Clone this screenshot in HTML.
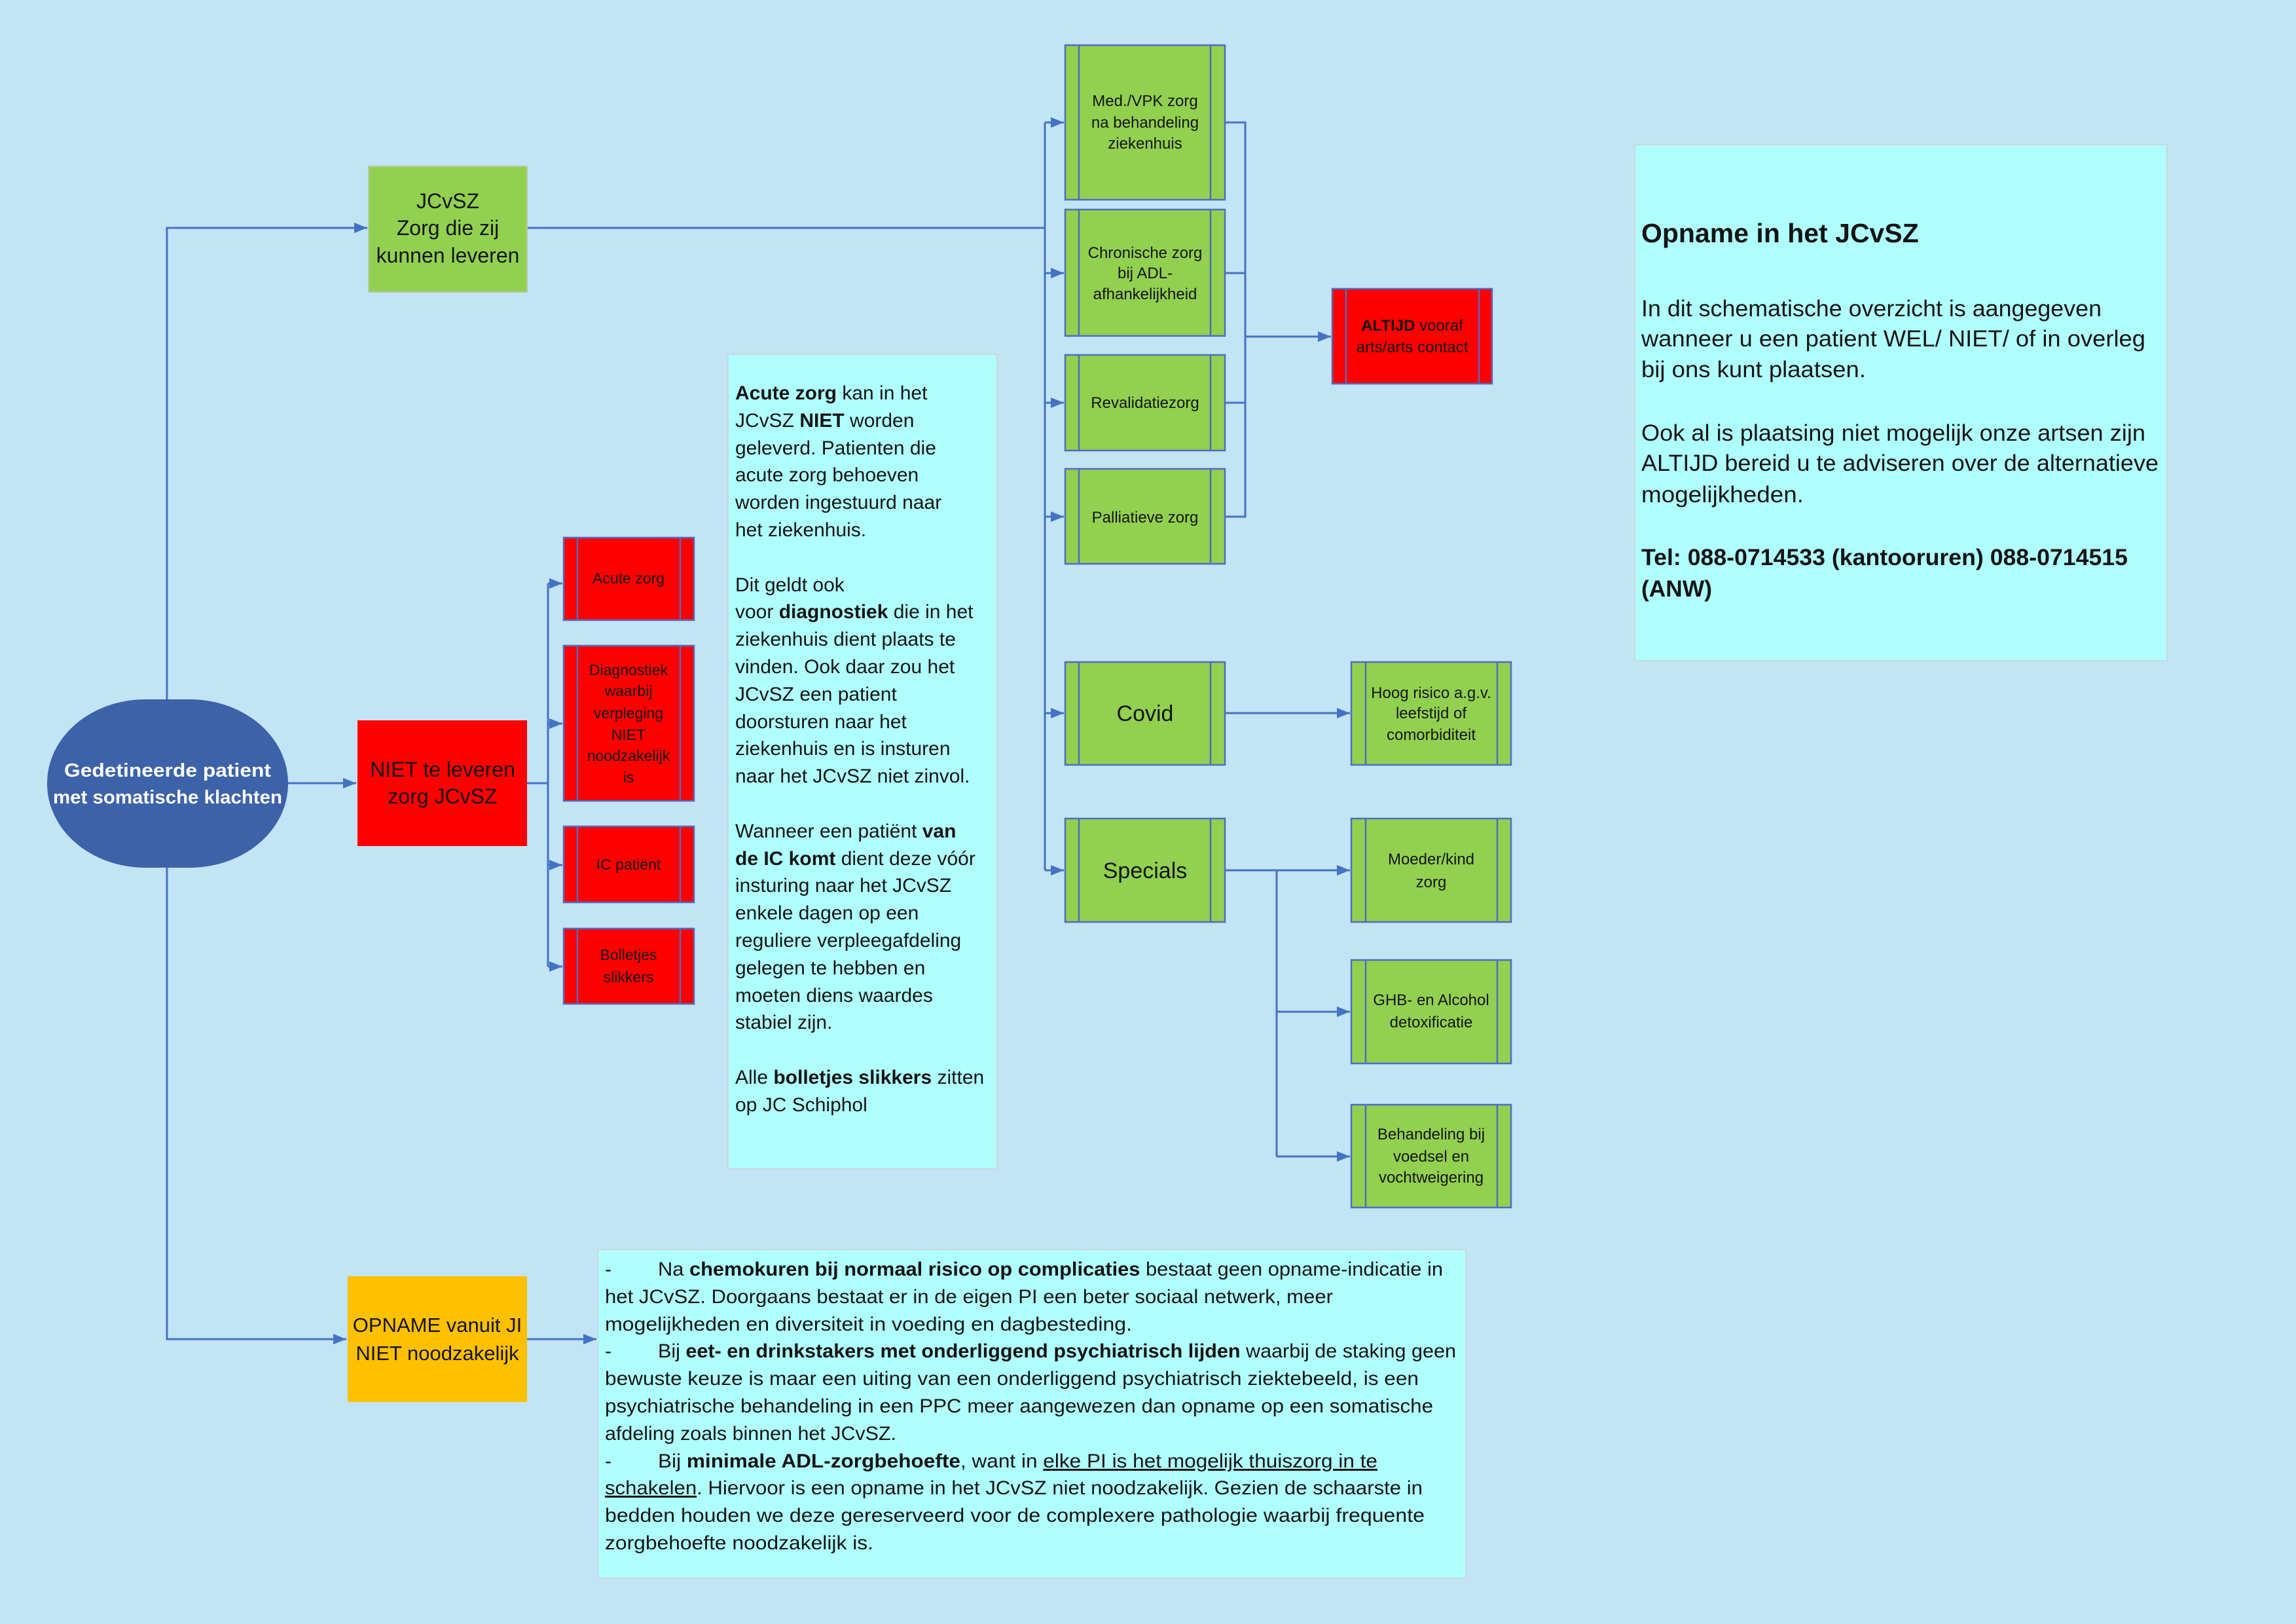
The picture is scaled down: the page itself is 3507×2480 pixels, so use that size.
<!DOCTYPE html>
<html><head><meta charset="utf-8"><style>
html,body{margin:0;padding:0;background:#c2e4f4;}
svg{display:block;}
text{font-family:"Liberation Sans",sans-serif;fill:#141414;}
</style></head><body>
<svg width="3507" height="2480" viewBox="0 0 3507 2480" xmlns="http://www.w3.org/2000/svg">
<defs>
<marker id="ar" viewBox="0 0 20 20" refX="20" refY="10" markerWidth="20" markerHeight="20" markerUnits="userSpaceOnUse" orient="auto"><path d="M0,2 L20,10 L0,18 z" fill="#4472c4"/></marker>
</defs>
<rect width="3507" height="2480" fill="#c2e4f4"/>

<g stroke="#4472c4" stroke-width="3" fill="none">
<polyline points="255,1068 255,348 561,348" marker-end="url(#ar)"/>
<polyline points="255,1325 255,2045 529,2045" marker-end="url(#ar)"/>
<line x1="440" y1="1196" x2="544" y2="1196" marker-end="url(#ar)"/>
<line x1="805" y1="2045" x2="911" y2="2045" marker-end="url(#ar)"/>
<polyline points="805,1196 837,1196"/>
<line x1="837" y1="891" x2="837" y2="1476"/>
<line x1="837" y1="891" x2="859" y2="891" marker-end="url(#ar)"/>
<line x1="837" y1="1105" x2="859" y2="1105" marker-end="url(#ar)"/>
<line x1="837" y1="1321" x2="859" y2="1321" marker-end="url(#ar)"/>
<line x1="837" y1="1476" x2="859" y2="1476" marker-end="url(#ar)"/>
<line x1="805" y1="348" x2="1596" y2="348"/>
<line x1="1596" y1="187" x2="1596" y2="1329"/>
<line x1="1596" y1="187" x2="1625" y2="187" marker-end="url(#ar)"/>
<line x1="1596" y1="417" x2="1625" y2="417" marker-end="url(#ar)"/>
<line x1="1596" y1="615" x2="1625" y2="615" marker-end="url(#ar)"/>
<line x1="1596" y1="789" x2="1625" y2="789" marker-end="url(#ar)"/>
<line x1="1596" y1="1089" x2="1625" y2="1089" marker-end="url(#ar)"/>
<line x1="1596" y1="1329" x2="1625" y2="1329" marker-end="url(#ar)"/>
<polyline points="1871,187 1902,187 1902,789 1871,789"/>
<line x1="1871" y1="417" x2="1902" y2="417"/>
<line x1="1871" y1="615" x2="1902" y2="615"/>
<line x1="1902" y1="514" x2="2033" y2="514" marker-end="url(#ar)"/>
<line x1="1871" y1="1089" x2="2062" y2="1089" marker-end="url(#ar)"/>
<line x1="1871" y1="1329" x2="2062" y2="1329" marker-end="url(#ar)"/>
<line x1="1950" y1="1329" x2="1950" y2="1766"/>
<line x1="1950" y1="1545" x2="2062" y2="1545" marker-end="url(#ar)"/>
<line x1="1950" y1="1766" x2="2062" y2="1766" marker-end="url(#ar)"/>
</g>

<rect x="72" y="1068" width="368" height="257" rx="150" ry="128" fill="#3c62aa"/>
<text x="256" y="1186" text-anchor="middle" font-size="29" font-weight="bold" style="fill:#fff" textLength="316" lengthAdjust="spacingAndGlyphs">Gedetineerde  patient</text>
<text x="256" y="1227" text-anchor="middle" font-size="29" font-weight="bold" style="fill:#fff" textLength="350" lengthAdjust="spacingAndGlyphs">met somatische klachten</text>

<rect x="563" y="254" width="242" height="192" fill="#92d050" stroke="#b6c9a6" stroke-width="2"/>
<g font-size="32" text-anchor="middle">
<text x="684" y="318">JCvSZ</text>
<text x="684" y="359">Zorg die zij</text>
<text x="684" y="401">kunnen leveren</text>
</g>
<rect x="546" y="1100" width="259" height="192" fill="#ff0000"/>
<g font-size="32" text-anchor="middle">
<text x="676" y="1186">NIET te leveren</text>
<text x="676" y="1227">zorg JCvSZ</text>
</g>
<rect x="531" y="1949" width="274" height="192" fill="#ffc000"/>
<g font-size="31" text-anchor="middle">
<text x="668" y="2034">OPNAME vanuit JI</text>
<text x="668" y="2077">NIET noodzakelijk</text>
</g>

<g fill="#ff0000" stroke="#4f6cc0" stroke-width="2.5">
<rect x="861" y="821" width="199" height="126"/>
<rect x="861" y="986" width="199" height="237"/>
<rect x="861" y="1262" width="199" height="116"/>
<rect x="861" y="1418" width="199" height="115"/>
<path d="M882,821V947M1039,821V947M882,986V1223M1039,986V1223M882,1262V1378M1039,1262V1378M882,1418V1533M1039,1418V1533"/>
</g>
<g font-size="23" text-anchor="middle">
<text x="960" y="891">Acute zorg</text>
<text x="960" y="1031">Diagnostiek</text>
<text x="960" y="1063">waarbij</text>
<text x="960" y="1097">verpleging</text>
<text x="960" y="1130">NIET</text>
<text x="960" y="1162">noodzakelijk</text>
<text x="960" y="1195">is</text>
<text x="960" y="1328">IC patiënt</text>
<text x="960" y="1466">Bolletjes</text>
<text x="960" y="1500">slikkers</text>
</g>

<g fill="#92d050" stroke="#4f6cc0" stroke-width="2.5">
<rect x="1627" y="69" width="244" height="236"/>
<rect x="1627" y="320" width="244" height="193"/>
<rect x="1627" y="542" width="244" height="146"/>
<rect x="1627" y="716" width="244" height="145"/>
<rect x="1627" y="1011" width="244" height="157"/>
<rect x="1627" y="1250" width="244" height="158"/>
<rect x="2064" y="1011" width="244" height="157"/>
<rect x="2064" y="1250" width="244" height="158"/>
<rect x="2064" y="1466" width="244" height="158"/>
<rect x="2064" y="1687" width="244" height="157"/>
<path d="M1648,69V305M1849,69V305M1648,320V513M1849,320V513M1648,542V688M1849,542V688M1648,716V861M1849,716V861M1648,1011V1168M1849,1011V1168M1648,1250V1408M1849,1250V1408M2086,1011V1168M2287,1011V1168M2086,1250V1408M2287,1250V1408M2086,1466V1624M2287,1466V1624M2086,1687V1844M2287,1687V1844"/>
</g>
<g fill="#ff0000" stroke="#4f6cc0" stroke-width="2.5">
<rect x="2035" y="441" width="244" height="145"/>
<path d="M2056,441V586M2259,441V586"/>
</g>
<g font-size="24" text-anchor="middle">
<text x="1749" y="162">Med./VPK zorg</text>
<text x="1749" y="195">na behandeling</text>
<text x="1749" y="227">ziekenhuis</text>
<text x="1749" y="394">Chronische zorg</text>
<text x="1749" y="425">bij ADL-</text>
<text x="1749" y="457">afhankelijkheid</text>
<text x="1749" y="623">Revalidatiezorg</text>
<text x="1749" y="798">Palliatieve zorg</text>
<text x="1749" y="1101" font-size="34">Covid</text>
<text x="1749" y="1341" font-size="34">Specials</text>
<text x="2186" y="1066">Hoog risico a.g.v.</text>
<text x="2186" y="1097">leefstijd of</text>
<text x="2186" y="1130">comorbiditeit</text>
<text x="2186" y="1320">Moeder/kind</text>
<text x="2186" y="1355">zorg</text>
<text x="2186" y="1535">GHB- en Alcohol</text>
<text x="2186" y="1569">detoxificatie</text>
<text x="2186" y="1740">Behandeling bij</text>
<text x="2186" y="1774">voedsel en</text>
<text x="2186" y="1806">vochtweigering</text>
<text x="2157" y="505"><tspan font-weight="bold">ALTIJD</tspan> vooraf</text>
<text x="2157" y="538">arts/arts contact</text>
</g>

<rect x="1112" y="541" width="411" height="1244" fill="#b0ffff" stroke="#c9d9dc" stroke-width="2"/>
<g font-size="30">
<text x="1123" y="610"><tspan font-weight="bold">Acute zorg</tspan> kan in het</text>
<text x="1123" y="652">JCvSZ <tspan font-weight="bold">NIET</tspan> worden</text>
<text x="1123" y="694">geleverd. Patienten die</text>
<text x="1123" y="735">acute zorg behoeven</text>
<text x="1123" y="777">worden ingestuurd naar</text>
<text x="1123" y="819">het ziekenhuis.</text>
<text x="1123" y="903">Dit geldt ook</text>
<text x="1123" y="944">voor <tspan font-weight="bold">diagnostiek</tspan> die in het</text>
<text x="1123" y="986">ziekenhuis dient plaats te</text>
<text x="1123" y="1028">vinden. Ook daar zou het</text>
<text x="1123" y="1070">JCvSZ een patient</text>
<text x="1123" y="1112">doorsturen naar het</text>
<text x="1123" y="1153">ziekenhuis en is insturen</text>
<text x="1123" y="1195">naar het JCvSZ niet zinvol.</text>
<text x="1123" y="1279">Wanneer een patiënt <tspan font-weight="bold">van</tspan></text>
<text x="1123" y="1321"><tspan font-weight="bold">de IC komt</tspan> dient deze vóór</text>
<text x="1123" y="1362">insturing naar het JCvSZ</text>
<text x="1123" y="1404">enkele dagen op een</text>
<text x="1123" y="1446">reguliere verpleegafdeling</text>
<text x="1123" y="1488">gelegen te hebben en</text>
<text x="1123" y="1530">moeten diens waardes</text>
<text x="1123" y="1571">stabiel zijn.</text>
<text x="1123" y="1655">Alle <tspan font-weight="bold">bolletjes slikkers</tspan> zitten</text>
<text x="1123" y="1697">op JC Schiphol</text>
</g>

<rect x="2497" y="221" width="813" height="788" fill="#b0ffff" stroke="#c9d9dc" stroke-width="2"/>
<text x="2507" y="370" font-size="41" font-weight="bold">Opname in het JCvSZ</text>
<g font-size="35">
<text x="2507" y="483" textLength="703" lengthAdjust="spacingAndGlyphs">In dit schematische overzicht is aangegeven</text>
<text x="2507" y="529" textLength="770" lengthAdjust="spacingAndGlyphs">wanneer u een patient WEL/ NIET/ of in overleg</text>
<text x="2507" y="576" textLength="343" lengthAdjust="spacingAndGlyphs">bij ons kunt plaatsen.</text>
<text x="2507" y="673" textLength="770" lengthAdjust="spacingAndGlyphs">Ook al is plaatsing niet mogelijk onze artsen zijn</text>
<text x="2507" y="719" textLength="790" lengthAdjust="spacingAndGlyphs">ALTIJD bereid u te adviseren over de alternatieve</text>
<text x="2507" y="767" textLength="248" lengthAdjust="spacingAndGlyphs">mogelijkheden.</text>
<text x="2507" y="863" font-weight="bold" textLength="743" lengthAdjust="spacingAndGlyphs">Tel: 088-0714533 (kantooruren) 088-0714515</text>
<text x="2507" y="911" font-weight="bold" textLength="108" lengthAdjust="spacingAndGlyphs">(ANW)</text>
</g>

<rect x="913" y="1908" width="1326" height="502" fill="#b0ffff" stroke="#c9d9dc" stroke-width="2"/>
<g font-size="30">
<text x="924" y="1948">-</text>
<text x="1005" y="1948" textLength="1199" lengthAdjust="spacingAndGlyphs">Na <tspan font-weight="bold">chemokuren bij normaal risico op complicaties</tspan> bestaat geen opname-indicatie in</text>
<text x="924" y="1990" textLength="1112" lengthAdjust="spacingAndGlyphs">het JCvSZ. Doorgaans bestaat er in de eigen PI een beter sociaal netwerk, meer</text>
<text x="924" y="2032" textLength="805" lengthAdjust="spacingAndGlyphs">mogelijkheden en diversiteit in voeding en dagbesteding.</text>
<text x="924" y="2073">-</text>
<text x="1005" y="2073" textLength="1219" lengthAdjust="spacingAndGlyphs">Bij <tspan font-weight="bold">eet- en drinkstakers met onderliggend psychiatrisch lijden</tspan> waarbij de staking geen</text>
<text x="924" y="2115" textLength="1243" lengthAdjust="spacingAndGlyphs">bewuste keuze is maar een uiting van een onderliggend psychiatrisch ziektebeeld, is een</text>
<text x="924" y="2157" textLength="1265" lengthAdjust="spacingAndGlyphs">psychiatrische behandeling in een PPC meer aangewezen dan opname op een somatische</text>
<text x="924" y="2199" textLength="445" lengthAdjust="spacingAndGlyphs">afdeling zoals binnen het JCvSZ.</text>
<text x="924" y="2241">-</text>
<text x="1005" y="2241" textLength="1099" lengthAdjust="spacingAndGlyphs">Bij <tspan font-weight="bold">minimale ADL-zorgbehoefte</tspan>, want in <tspan text-decoration="underline">elke PI is het mogelijk thuiszorg in te</tspan></text>
<text x="924" y="2282" textLength="1249" lengthAdjust="spacingAndGlyphs"><tspan text-decoration="underline">schakelen</tspan>. Hiervoor is een opname in het JCvSZ niet noodzakelijk. Gezien de schaarste in</text>
<text x="924" y="2324" textLength="1252" lengthAdjust="spacingAndGlyphs">bedden houden we deze gereserveerd voor de complexere pathologie waarbij frequente</text>
<text x="924" y="2366" textLength="410" lengthAdjust="spacingAndGlyphs">zorgbehoefte noodzakelijk is.</text>
</g>
</svg>
</body></html>
